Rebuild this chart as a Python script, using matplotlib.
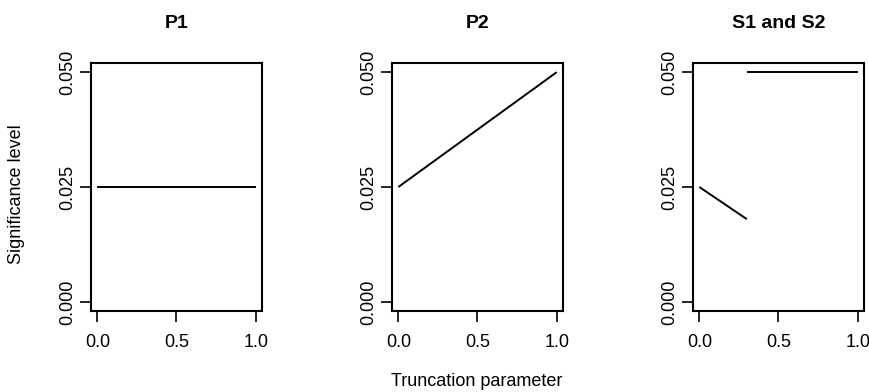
import matplotlib
matplotlib.use("Agg")
import matplotlib.pyplot as plt

plt.rcParams.update({
    "font.family": ["Liberation Sans", "DejaVu Sans"],
    "font.size": 13,
})

titles = ["P1", "P2", "S1 and S2"]
x_ticks = [0.0, 0.5, 1.0]
x_tick_labels = ["0.0", "0.5", "1.0"]
y_ticks = [0.000, 0.025, 0.050]
y_tick_labels = ["0.000", "0.025", "0.050"]

# line segments for each panel
p1_x = [0.0, 1.0]
p1_y = [0.025, 0.025]
p2_x = [0.0, 1.0]
p2_y = [0.025, 0.050]
s_low_x = [0.0, 0.3]
s_low_y = [0.025, 0.018]
s_high_x = [0.3, 1.0]
s_high_y = [0.050, 0.050]

panels = [
    [(p1_x, p1_y)],
    [(p2_x, p2_y)],
    [(s_low_x, s_low_y), (s_high_x, s_high_y)],
]

fig = plt.figure(figsize=(8.7, 3.92), dpi=100)
W, H = 870, 392
lefts = [91, 392, 693]
box_w = 171
top, bottom = 63, 311

for left, title, segs in zip(lefts, titles, panels):
    ax = fig.add_axes([left / W, 1 - bottom / H, box_w / W, (bottom - top) / H])
    for xs, ys in segs:
        ax.plot(xs, ys, color="black", linewidth=1.4, solid_capstyle="butt")
    ax.set_xlim(-0.04, 1.04)
    ax.set_ylim(-0.002, 0.052)
    ax.set_xticks(x_ticks)
    ax.set_xticklabels(x_tick_labels)
    ax.set_yticks(y_ticks)
    ax.set_yticklabels(y_tick_labels, rotation=90, va="center")
    ax.tick_params(direction="out", length=7.9, width=1.2, labelsize=13)
    ax.tick_params(axis="x", pad=9)
    ax.tick_params(axis="y", pad=3)
    for sp in ax.spines.values():
        sp.set_linewidth(1.5)
    ax.set_title(title, fontweight="bold", fontsize=14, pad=25)

fig.text(17 / W, 1 - 194 / H, "Significance level", rotation=90,
         ha="center", va="center", fontsize=13)
fig.text(477 / W, 1 - 386 / H, "Truncation parameter",
         ha="center", va="baseline", fontsize=13)

fig.savefig("out.png", dpi=100)
